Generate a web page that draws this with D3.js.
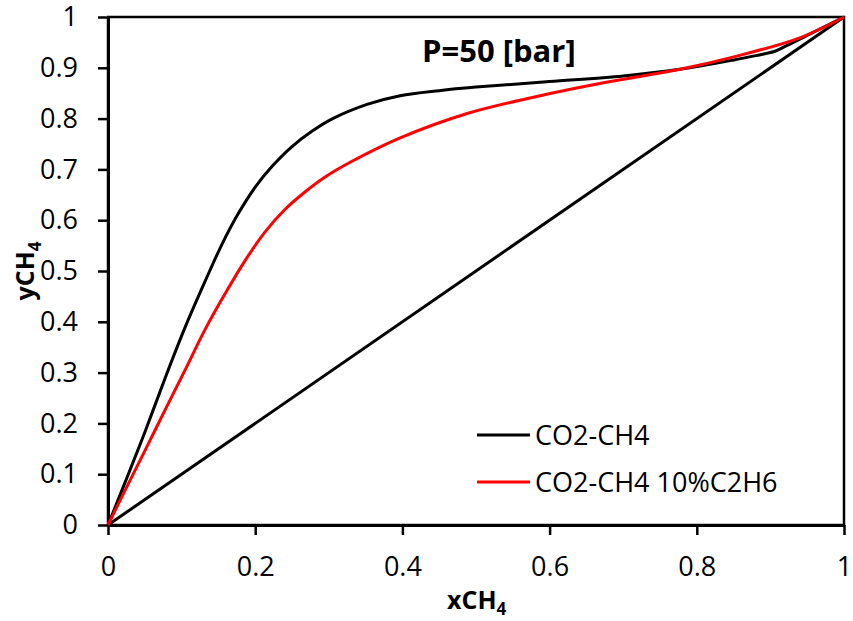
<!DOCTYPE html>
<html>
<head>
<meta charset="utf-8">
<script src="https://cdn.jsdelivr.net/npm/d3@7"></script>
<style>
  body { margin: 0; background: #fff; }
  svg { display: block; font-family: "Open Sans", sans-serif; }
</style>
</head>
<body>
<div id="chart"></div>
<script>
/* CONSTANTS AND GLOBALS */
const width = 853;
const height = 621;
const margin = { top: 17, right: 9, bottom: 96, left: 108 };

// DATA ######################################################
// CO2-CH4 (black)
const xBlack = [0, 0.0235, 0.0507, 0.0778, 0.105, 0.132, 0.155, 0.177, 0.2, 0.223, 0.25, 0.277, 0.304, 0.352, 0.397, 0.45, 0.5, 0.6, 0.7, 0.777, 0.849, 0.88, 0.905, 0.92, 0.95, 1];
const yBlack = [0, 0.085, 0.185, 0.29, 0.39, 0.48, 0.553, 0.613, 0.665, 0.706, 0.745, 0.775, 0.799, 0.828, 0.845, 0.855, 0.862, 0.873, 0.884, 0.897, 0.915, 0.924, 0.932, 0.942, 0.964, 1];

// CO2-CH4 10%C2H6 (red)
const xRed = [0, 0.0235, 0.0507, 0.0778, 0.105, 0.132, 0.159, 0.186, 0.214, 0.241, 0.268, 0.295, 0.329, 0.397, 0.488, 0.578, 0.668, 0.777, 0.849, 0.94, 1];
const yRed = [0, 0.069, 0.148, 0.227, 0.306, 0.385, 0.455, 0.52, 0.578, 0.622, 0.656, 0.685, 0.714, 0.762, 0.81, 0.842, 0.869, 0.897, 0.921, 0.959, 1];

// y = x diagonal
const xDiag = [0, 1];
const yDiag = [0, 1];

const xTicks = [0, 0.2, 0.4, 0.6, 0.8, 1];
const yTicks = [0, 0.1, 0.2, 0.3, 0.4, 0.5, 0.6, 0.7, 0.8, 0.9, 1];

const seriesNames = ["CO2-CH4", "CO2-CH4 10%C2H6"];
const seriesColors = ["#000000", "#ff0000"];

const toPoints = (xs, ys) => xs.map((x, i) => ({ x: x, y: ys[i] }));

// SCALES ####################################################
const xScale = d3.scaleLinear()
  .domain([0, 1])
  .range([margin.left, width - margin.right]);

const yScale = d3.scaleLinear()
  .domain([0, 1])
  .range([height - margin.bottom, margin.top]);

// SVG #######################################################
const svg = d3.select("#chart")
  .append("svg")
  .attr("width", width)
  .attr("height", height);

// plot frame
svg.append("rect")
  .attr("x", xScale(0))
  .attr("y", yScale(1))
  .attr("width", xScale(1) - xScale(0))
  .attr("height", yScale(0) - yScale(1))
  .attr("fill", "none")
  .attr("stroke", "#000")
  .attr("stroke-width", 2.5);

// AXES ======================================================
const fmt = d => d === 0 || d === 1 ? String(d) : d3.format(".1f")(d);

const xAxisGroup = svg.append("g")
  .attr("transform", `translate(0, ${yScale(0)})`)
  .call(d3.axisBottom(xScale)
    .tickValues(xTicks)
    .tickFormat(fmt)
    .tickSize(10)
    .tickSizeOuter(0)
    .tickPadding(22));

const yAxisGroup = svg.append("g")
  .attr("transform", `translate(${xScale(0)}, 0)`)
  .call(d3.axisLeft(yScale)
    .tickValues(yTicks)
    .tickFormat(fmt)
    .tickSize(10)
    .tickSizeOuter(0)
    .tickPadding(20));

[xAxisGroup, yAxisGroup].forEach(g => {
  g.select(".domain").attr("stroke-width", 3);
  g.selectAll(".tick line").attr("stroke-width", 2.5);
  g.selectAll(".tick text")
    .attr("fill", "#000")
    .style("font-family", "'Open Sans', sans-serif")
    .style("font-size", "27px");
});

// LINES =====================================================
const line = d3.line()
  .x(d => xScale(d.x))
  .y(d => yScale(d.y))
  .curve(d3.curveCatmullRom.alpha(0.5));

const lines = [
  { pts: toPoints(xDiag, yDiag), color: seriesColors[0] },
  { pts: toPoints(xBlack, yBlack), color: seriesColors[0] },
  { pts: toPoints(xRed, yRed), color: seriesColors[1] }
];

svg.selectAll(".series")
  .data(lines)
  .join("path")
    .attr("class", "series")
    .attr("d", d => line(d.pts))
    .attr("fill", "none")
    .attr("stroke", d => d.color)
    .attr("stroke-width", 3)
    .attr("stroke-linejoin", "round");

// TITLE =====================================================
svg.append("text")
  .attr("x", 422)
  .attr("y", 62)
  .style("font-weight", "bold")
  .style("font-size", "31px")
  .text("P=50 [bar]");

// AXIS LABELS ===============================================
const xLabel = svg.append("text")
  .attr("x", 447)
  .attr("y", 609)
  .style("font-weight", "bold")
  .style("font-size", "25px");
xLabel.append("tspan").text("xCH");
xLabel.append("tspan").attr("dy", 6).style("font-size", "17px").text("4");

const yLabel = svg.append("text")
  .attr("transform", `translate(34, ${yScale(0.5)}) rotate(-90)`)
  .attr("text-anchor", "middle")
  .style("font-weight", "bold")
  .style("font-size", "25px");
yLabel.append("tspan").text("yCH");
yLabel.append("tspan").attr("dy", 7).style("font-size", "17px").text("4");

// LEGEND ====================================================
const legend = svg.append("g")
  .attr("transform", `translate(477, 435)`);

const legendRows = legend.selectAll(".legend-row")
  .data(seriesNames)
  .join("g")
    .attr("class", "legend-row")
    .attr("transform", (d, i) => `translate(0, ${i * 47})`);

legendRows.append("line")
  .attr("x1", 0)
  .attr("x2", 53)
  .attr("stroke", (d, i) => seriesColors[i])
  .attr("stroke-width", 3);

legendRows.append("text")
  .attr("x", 58)
  .attr("dy", "0.36em")
  .style("font-size", "27px")
  .text(d => d);
</script>
</body>
</html>
